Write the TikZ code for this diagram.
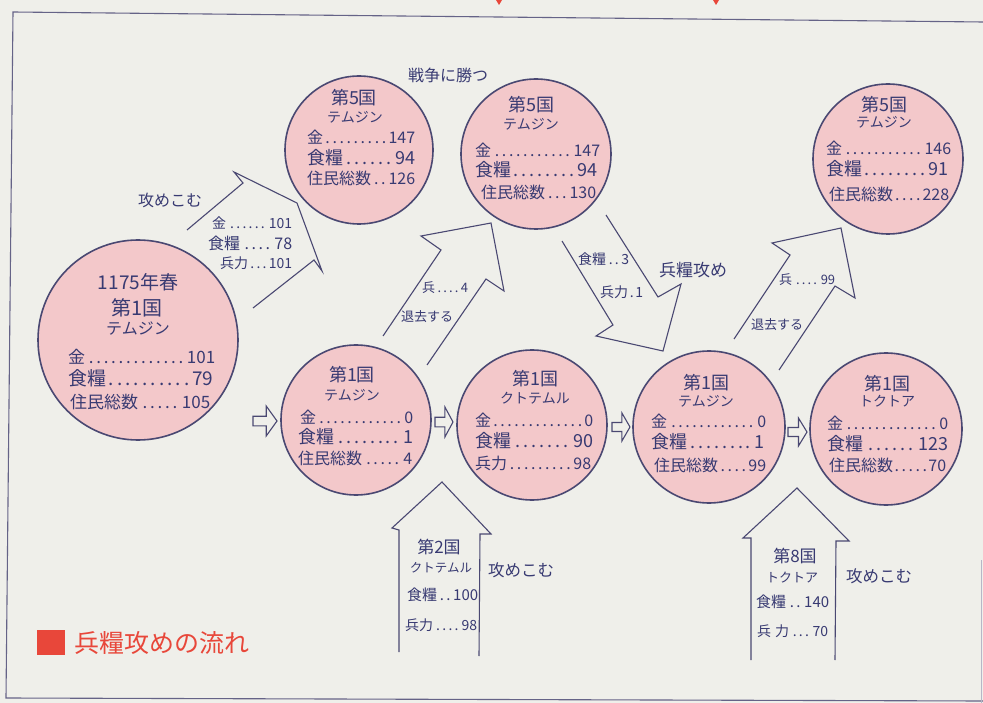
\documentclass[tikz,border=0pt]{standalone}
\usepackage{fontspec}
\setmainfont{Noto Sans CJK JP}
\definecolor{paper}{HTML}{EFEFEA}
\definecolor{ink}{HTML}{383A72}
\definecolor{lineink}{HTML}{4A4872}
\definecolor{pinkfill}{HTML}{F3C8CA}
\definecolor{legendred}{HTML}{E8473A}
\newcommand\drow[3]{\hbox to #1pt{#2\dotfill #3}}
\newcommand\fsz[1]{\fontsize{#1}{#1}\selectfont}
\newcommand\harrow[4]{%
  \draw[smallarrow] (#1,{#3-0.32*#4}) -- ({#1+0.55*(#2-#1)},{#3-0.32*#4}) -- ({#1+0.55*(#2-#1)},{#3-#4}) -- (#2,#3) -- ({#1+0.55*(#2-#1)},{#3+#4}) -- ({#1+0.55*(#2-#1)},{#3+0.32*#4}) -- (#1,{#3+0.32*#4}) -- cycle;}
\begin{document}
\begin{tikzpicture}[x=1pt,y=-1pt,
  circ/.style={circle,draw=lineink,line width=1.6pt,fill=pinkfill,inner sep=0pt},
  bigarrow/.style={draw=lineink,line width=1.1pt,line join=miter},
  smallarrow/.style={draw=lineink,line width=1.1pt,fill=paper,line join=miter},
  txt/.style={text=ink,inner sep=0pt},
  row/.style={text=ink,inner sep=0pt,anchor=west},
  frameline/.style={draw=lineink!85,line width=1.1pt}]
\useasboundingbox (0,0) rectangle (983,703);
\fill[paper] (0,0) rectangle (983,703);
% frame
\coordinate (f1) at (13,12);
\coordinate (f2) at (983,22);
\coordinate (f3) at (6,698);
\coordinate (f4) at (983,701);
\draw[frameline] (f2) -- (f1) -- (f3) -- (f4);
\coordinate (r1) at (981,560);
\coordinate (r2) at (981,703);
\draw[lineink!40,line width=0.8pt] (r1) -- (r2);
% red marks from the page above
\fill[legendred] (496,0) -- (502,0) -- (499,5) -- cycle;
\fill[legendred] (713,0) -- (719,0) -- (716,5) -- cycle;

% circles
\node[circ,minimum size=200pt] (c1) at (138,340) {};
\node[circ,minimum size=148pt] (c2) at (359,150) {};
\node[circ,minimum size=150pt] (c3) at (536,154) {};
\node[circ,minimum size=150pt] (c4) at (888,159) {};
\node[circ,minimum size=150pt] (c5) at (356,420) {};
\node[circ,minimum size=150pt] (c6) at (532,425) {};
\node[circ,minimum size=152pt] (c7) at (709,427) {};
\node[circ,minimum size=152pt] (c8) at (886,429) {};

% small hollow arrows
\harrow{253}{277}{421}{15}
\harrow{435}{453}{422}{15}
\harrow{612}{630}{427}{14}
\harrow{788}{807}{432}{14}

% big arrows
\draw[bigarrow] (187,230) -- (243,183) -- (234,172) -- (297,203) -- (322,271) -- (314,260) -- (253,308);
\draw[bigarrow] (383,336) -- (441,250) -- (421,236) -- (491,223) -- (504,291) -- (486,279) -- (427,365);
\draw[bigarrow] (562,241) -- (613,325) -- (596,336) -- (663,351) -- (681,284) -- (658,297) -- (606,215);
\draw[bigarrow] (734,339) -- (790,255) -- (772,243) -- (841,228) -- (855,298) -- (835,286) -- (779,370);
\draw[bigarrow] (399,652) -- (399,530) -- (392,528) -- (442,482) -- (491,534) -- (480,534) -- (479,656);
\draw[bigarrow] (751,660) -- (751,538) -- (743,538) -- (797,488) -- (849,541) -- (836,541) -- (835,660);

% circle 1
\node[txt,font=\fsz{19}] (c1a) at (138,282) {1175年春};
\node[txt,font=\fsz{20}] (c1b) at (137,308) {第1国};
\node[txt,font=\fsz{16}] (c1c) at (138,329) {テムジン};
\node[row,font=\fsz{17}] (c1d) at (68,357) {\drow{147}{金}{101}};
\node[row,font=\fsz{17}] (c1e) at (68,378) {\drow{145}{\fsz{19}食糧}{79}};
\node[row,font=\fsz{17}] (c1f) at (70,402) {\drow{140}{住民総数}{105}};
% circle 2
\node[txt,font=\fsz{18}] (c2a) at (354,98) {第5国};
\node[txt,font=\fsz{14}] (c2b) at (355,117) {テムジン};
\node[row,font=\fsz{16}] (c2c) at (307,137) {\drow{108}{金}{147}};
\node[row,font=\fsz{16}] (c2d) at (307,158) {\drow{108}{\fsz{18}食糧}{94}};
\node[row,font=\fsz{16}] (c2e) at (307,178) {\drow{108}{住民総数}{126}};
% circle 3
\node[txt,font=\fsz{18}] (c3a) at (531,105) {第5国};
\node[txt,font=\fsz{14}] (c3b) at (531,124) {テムジン};
\node[row,font=\fsz{16}] (c3c) at (475,150) {\drow{125}{金}{147}};
\node[row,font=\fsz{16}] (c3d) at (475,170) {\drow{122}{\fsz{18}食糧}{94}};
\node[row,font=\fsz{16}] (c3e) at (481,192) {\drow{115}{住民総数}{130}};
% circle 4
\node[txt,font=\fsz{18}] (c4a) at (884,105) {第5国};
\node[txt,font=\fsz{14}] (c4b) at (884,122) {テムジン};
\node[row,font=\fsz{16}] (c4c) at (826,148) {\drow{125}{金}{146}};
\node[row,font=\fsz{16}] (c4d) at (826,169) {\drow{122}{\fsz{18}食糧}{91}};
\node[row,font=\fsz{16}] (c4e) at (829,194) {\drow{120}{住民総数}{228}};
% circle 5
\node[txt,font=\fsz{18}] (c5a) at (352,375) {第1国};
\node[txt,font=\fsz{14}] (c5b) at (352,395) {テムジン};
\node[row,font=\fsz{16}] (c5c) at (300,417) {\drow{113}{金}{0}};
\node[row,font=\fsz{16}] (c5d) at (298,437) {\drow{115}{\fsz{18}食糧}{1}};
\node[row,font=\fsz{16}] (c5e) at (298,458) {\drow{114}{住民総数}{4}};
% circle 6
\node[txt,font=\fsz{18}] (c6a) at (535,379) {第1国};
\node[txt,font=\fsz{14}] (c6b) at (535,398) {クトテムル};
\node[row,font=\fsz{16}] (c6c) at (475,420) {\drow{118}{金}{0}};
\node[row,font=\fsz{16}] (c6d) at (475,441) {\drow{118}{\fsz{18}食糧}{90}};
\node[row,font=\fsz{16}] (c6e) at (475,463) {\drow{116}{兵力}{98}};
% circle 7
\node[txt,font=\fsz{18}] (c7a) at (706,383) {第1国};
\node[txt,font=\fsz{14}] (c7b) at (706,401) {テムジン};
\node[row,font=\fsz{16}] (c7c) at (651,421) {\drow{115}{金}{0}};
\node[row,font=\fsz{16}] (c7d) at (651,442) {\drow{113}{\fsz{18}食糧}{1}};
\node[row,font=\fsz{16}] (c7e) at (654,465) {\drow{112}{住民総数}{99}};
% circle 8
\node[txt,font=\fsz{18}] (c8a) at (887,384) {第1国};
\node[txt,font=\fsz{14}] (c8b) at (887,401) {トクトア};
\node[row,font=\fsz{16}] (c8c) at (827,423) {\drow{121}{金}{0}};
\node[row,font=\fsz{16}] (c8d) at (827,444) {\drow{121}{\fsz{18}食糧}{123}};
\node[row,font=\fsz{16}] (c8e) at (829,465) {\drow{117}{住民総数}{70}};

% free labels
\node[txt,font=\fsz{16}] (l1) at (448,75) {戦争に勝つ};
\node[txt,font=\fsz{16}] (l2) at (170,200) {攻めこむ};
% arrow A
\node[row,font=\fsz{14}] (a1) at (212,223) {\drow{80}{金}{101}};
\node[row,font=\fsz{14}] (a2) at (208,243) {\drow{84}{\fsz{16}食糧}{78}};
\node[row,font=\fsz{14}] (a3) at (220,263) {\drow{72}{兵力}{101}};
% arrow B
\node[row,font=\fsz{13}] (b1) at (422,288) {\drow{46}{兵}{4}};
\node[txt,font=\fsz{13}] (b2) at (427,317) {退去する};
% arrow C
\node[row,font=\fsz{14}] (d1) at (578,259) {\drow{51}{食糧}{3}};
\node[row,font=\fsz{14}] (d2) at (600,292) {\drow{43}{兵力}{1}};
\node[txt,font=\fsz{17}] (d3) at (693,270) {兵糧攻め};
% arrow D
\node[row,font=\fsz{13}] (e1) at (779,280) {\drow{56}{兵}{99}};
\node[txt,font=\fsz{13}] (e2) at (777,325) {退去する};
% arrow E
\node[txt,font=\fsz{17}] (g1) at (439,547) {第2国};
\node[txt,font=\fsz{12.5}] (g2) at (441,568) {クトテムル};
\node[row,font=\fsz{15}] (g3) at (407,595) {\drow{71}{食糧}{100}};
\node[row,font=\fsz{14}] (g4) at (405,625) {\drow{72}{兵力}{98}};
\node[txt,font=\fsz{16.5}] (g5) at (521,570) {攻めこむ};
% arrow F
\node[txt,font=\fsz{17}] (h1) at (795,556) {第8国};
\node[txt,font=\fsz{13}] (h2) at (792,578) {トクトア};
\node[row,font=\fsz{15}] (h3) at (756,602) {\drow{73}{食糧}{140}};
\node[row,font=\fsz{14}] (h4) at (757,631) {\drow{71}{兵\hspace{4pt}力}{70}};
\node[txt,font=\fsz{16.5}] (h5) at (879,576) {攻めこむ};

% legend
\node[fill=legendred,minimum width=28pt,minimum height=25pt,inner sep=0pt] (lg) at (51,642.5) {};
\node[anchor=west,text=legendred,inner sep=0pt,font=\fsz{25}] (lgt) at (74,643) {兵糧攻めの流れ};
\end{tikzpicture}
\end{document}
